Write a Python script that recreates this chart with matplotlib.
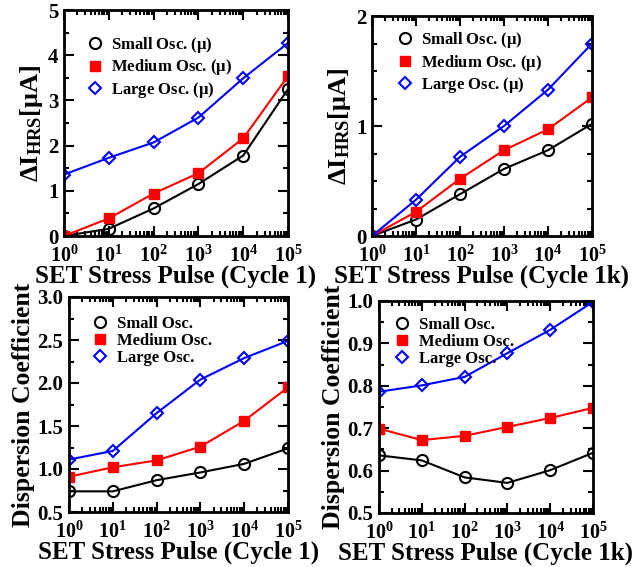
import matplotlib
matplotlib.use("Agg")
import matplotlib.pyplot as plt
from matplotlib.ticker import MultipleLocator, LogLocator, NullFormatter, FormatStrFormatter
from matplotlib.lines import Line2D

plt.rcParams['font.family'] = ['Liberation Serif', 'DejaVu Serif']
plt.rcParams['font.weight'] = 'bold'
plt.rcParams['mathtext.fontset'] = 'custom'
plt.rcParams['mathtext.rm'] = 'Liberation Serif:bold'
plt.rcParams['mathtext.it'] = 'Liberation Serif:bold'
plt.rcParams['mathtext.bf'] = 'Liberation Serif:bold'

pulses = [1, 10, 100, 1000, 10000, 100000]

d1_small = [0.0, 0.16, 0.61, 1.15, 1.78, 3.25]
d1_medium = [0.0, 0.39, 0.94, 1.39, 2.16, 3.54]
d1_large = [1.36, 1.73, 2.07, 2.62, 3.49, 4.27]

d2_small = [0.0, 0.15, 0.38, 0.61, 0.78, 1.02]
d2_medium = [0.0, 0.22, 0.52, 0.78, 0.97, 1.26]
d2_large = [0.0, 0.33, 0.72, 1.00, 1.33, 1.75]

c3_small = [0.74, 0.74, 0.87, 0.96, 1.06, 1.24]
c3_medium = [0.91, 1.02, 1.10, 1.26, 1.56, 1.95]
c3_large = [1.11, 1.21, 1.65, 2.04, 2.29, 2.49]

c4_small = [0.636, 0.624, 0.584, 0.571, 0.601, 0.642]
c4_medium = [0.699, 0.672, 0.682, 0.703, 0.724, 0.748]
c4_large = [0.786, 0.801, 0.821, 0.877, 0.932, 0.998]

labels_mu = ['Small Osc. ($\\mu$)', 'Medium Osc. ($\\mu$)', 'Large Osc. ($\\mu$)']
labels_plain = ['Small Osc.', 'Medium Osc.', 'Large Osc.']

W, H = 644, 567
fig = plt.figure(figsize=(W/100, H/100), dpi=100)

def add_ax(l, r, t, b):
    return fig.add_axes([l/W, 1 - b/H, (r-l)/W, (b-t)/H])

dlabel = r'$\Delta$I$_{\mathrm{HRS}}$[$\mu$A]'
panels = [
    (add_ax(64, 288, 10, 236), (d1_small, d1_medium, d1_large), labels_mu, (0, 5), 1, 0.5,
     'SET Stress Pulse (Cycle 1)', dlabel, '%d', 19, (0.10, 0.89), 0.15),
    (add_ax(372, 592, 16, 236), (d2_small, d2_medium, d2_large), labels_mu, (0, 2), 1, 0.25,
     'SET Stress Pulse (Cycle 1k)', dlabel, '%d', 19, (0.11, 0.936), 0.15),
    (add_ax(69, 288, 297, 512), (c3_small, c3_medium, c3_large), labels_plain, (0.5, 3.0), 0.5, 0.25,
     'SET Stress Pulse (Cycle 1)', 'Dispersion Coefficient', '%.1f', 18.5, (0.105, 0.912), 0.05),
    (add_ax(379, 593, 301, 513), (c4_small, c4_medium, c4_large), labels_plain, (0.5, 1.0), 0.1, 0.05,
     'SET Stress Pulse (Cycle 1k)', 'Dispersion Coefficient', '%.1f', 18.5, (0.07, 0.925), 0.05),
]

styles = [
    dict(color='black', marker='o', ms=8, mfc='none', mec='black', mew=1.5),
    dict(color='red', marker='s', ms=7, mfc='red', mec='red', mew=1.0),
    dict(color='blue', marker='D', ms=6.5, mfc='none', mec='blue', mew=1.5),
]

for ax, series, labs, ylim, maj, mino, xl, yl, fmt, yfs, anchor, lsp in panels:
    handles = []
    for vals, st, lab in zip(series, styles, labs):
        ax.plot(pulses, vals, lw=1.5, **st)
        handles.append(Line2D([], [], linestyle='none', **st))
    ax.set_xscale('log')
    ax.set_xlim(1, 1e5)
    ax.set_ylim(*ylim)
    ax.yaxis.set_major_locator(MultipleLocator(maj))
    ax.yaxis.set_minor_locator(MultipleLocator(mino))
    ax.yaxis.set_major_formatter(FormatStrFormatter(fmt))
    ax.xaxis.set_major_locator(LogLocator(base=10, numticks=10))
    ax.xaxis.set_minor_locator(LogLocator(base=10, subs=range(2, 10), numticks=20))
    ax.xaxis.set_minor_formatter(NullFormatter())
    ax.tick_params(which='both', direction='in', top=True, right=True, width=1.5)
    ax.tick_params(which='major', length=7, labelsize=15)
    ax.tick_params(axis='x', which='major', pad=7, labelsize=14.5)
    ax.tick_params(axis='y', which='major', pad=4)
    ax.tick_params(which='minor', length=3.5)
    for sp in ax.spines.values():
        sp.set_linewidth(2)
    ax.set_xlabel(xl, fontsize=18, fontweight='bold', labelpad=-1.5)
    ax.set_ylabel(yl, fontsize=yfs, fontweight='bold', labelpad=2)
    ax.legend(handles, labs, loc='upper left', frameon=False, fontsize=12, handlelength=1.0,
              borderaxespad=0, borderpad=0, labelspacing=lsp, handletextpad=0.5,
              bbox_to_anchor=anchor)

fig.savefig('out.png', dpi=100)
